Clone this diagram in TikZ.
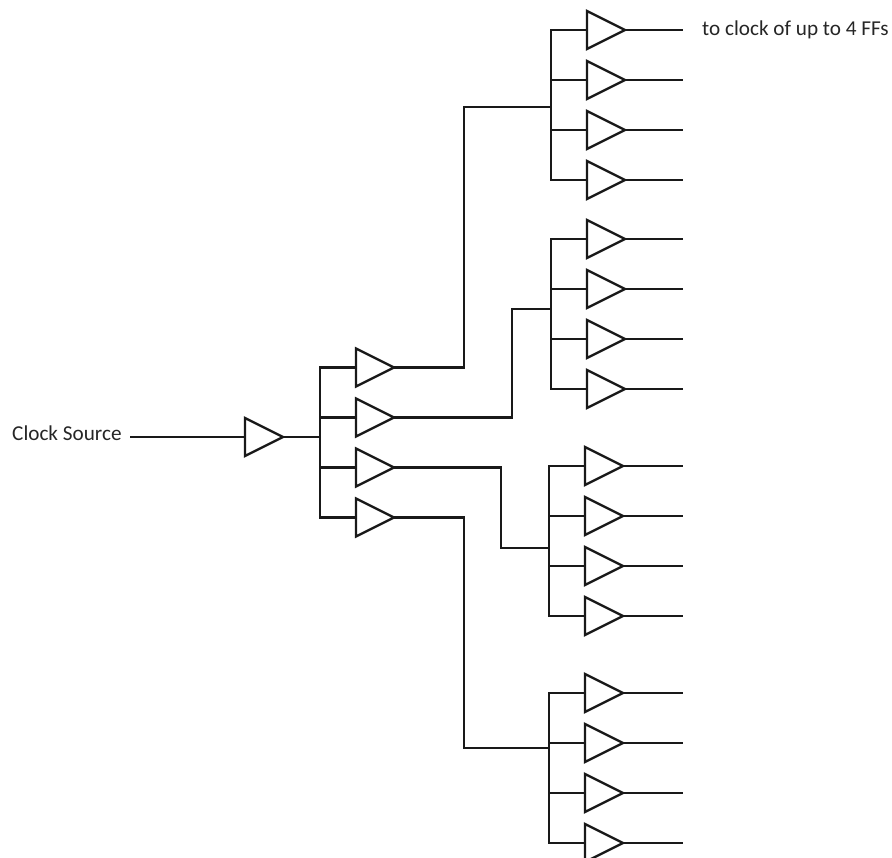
\documentclass[tikz,border=0pt]{standalone}
\usepackage{fontspec}
\setmainfont{Carlito}
\usetikzlibrary{shapes.geometric}
\tikzset{
  buf/.style={draw=black!90, line width=2.3pt, shape=isosceles triangle, isosceles triangle apex angle=53.13,
    isosceles triangle stretches, minimum width=38pt, minimum height=38pt, inner sep=0pt, outer sep=0pt, anchor=lower side, fill=white},
  wire/.style={draw=black!90, line width=2.1pt, line join=miter},
  lbl/.style={font=\fontsize{21.2pt}{24pt}\selectfont, text=black!85, inner sep=0pt}
}
\begin{document}
\begin{tikzpicture}[x=1pt,y=-1pt]
\useasboundingbox (0,0) rectangle (892,858);
\clip (0,0) rectangle (892,858);
% junction points
\coordinate (j0) at (320,437);
\coordinate (jA) at (551,107);
\coordinate (jB) at (551,309);
\coordinate (jC) at (549,548);
\coordinate (jD) at (549,748);
\coordinate (rB) at (512,309);
\coordinate (rC) at (501,548);
\coordinate (rA) at (464,107);
\coordinate (rD) at (464,748);
% labels
\node[lbl, anchor=base west] (src) at (12,441) {Clock Source};
\node[lbl, anchor=base west] (ffs) at (702,35.5) {to clock of up to 4 FFs};
\coordinate (srcend) at (130,437);
% root and second level
\node[buf] (root) at (245,437) {};
\foreach \n/\y in {1/367.5,2/417.5,3/467.5,4/517.5} \node[buf] (m\n) at (356,\y) {};
% leaves
\foreach \n/\y in {1/30,2/80,3/130,4/180} {\node[buf] (a\n) at (587,\y) {}; \coordinate (oa\n) at (683,\y);}
\foreach \n/\y in {1/239,2/289,3/339,4/389} {\node[buf] (b\n) at (587,\y) {}; \coordinate (ob\n) at (683,\y);}
\foreach \n/\y in {1/466,2/516,3/566,4/616} {\node[buf] (c\n) at (585,\y) {}; \coordinate (oc\n) at (683,\y);}
\foreach \n/\y in {1/693,2/743,3/793,4/843} {\node[buf] (d\n) at (585,\y) {}; \coordinate (od\n) at (683,\y);}
% source wires
\draw[wire] (srcend) -- (root.lower side);
\draw[wire] (root.apex) -- (j0);
\draw[wire] (m1.lower side) -| (j0) |- (m4.lower side);
\draw[wire] (m2.lower side) -- (m2.lower side -| j0);
\draw[wire] (m3.lower side) -- (m3.lower side -| j0);
% level two to groups
\draw[wire] (m1.apex) -| (rA) -- (jA);
\draw[wire] (m2.apex) -| (rB) -- (jB);
\draw[wire] (m3.apex) -| (rC) -- (jC);
\draw[wire] (m4.apex) -| (rD) -- (jD);
% groups
\draw[wire] (a1.lower side) -| (jA) |- (a4.lower side);
\draw[wire] (a2.lower side) -- (a2.lower side -| jA);
\draw[wire] (a3.lower side) -- (a3.lower side -| jA);
\draw[wire] (b1.lower side) -| (jB) |- (b4.lower side);
\draw[wire] (b2.lower side) -- (b2.lower side -| jB);
\draw[wire] (b3.lower side) -- (b3.lower side -| jB);
\draw[wire] (c1.lower side) -| (jC) |- (c4.lower side);
\draw[wire] (c2.lower side) -- (c2.lower side -| jC);
\draw[wire] (c3.lower side) -- (c3.lower side -| jC);
\draw[wire] (d1.lower side) -| (jD) |- (d4.lower side);
\draw[wire] (d2.lower side) -- (d2.lower side -| jD);
\draw[wire] (d3.lower side) -- (d3.lower side -| jD);
% outputs
\foreach \g in {a,b,c,d}
  \foreach \n in {1,2,3,4}
    \draw[wire] (\g\n.apex) -- (o\g\n);
\end{tikzpicture}
\end{document}
